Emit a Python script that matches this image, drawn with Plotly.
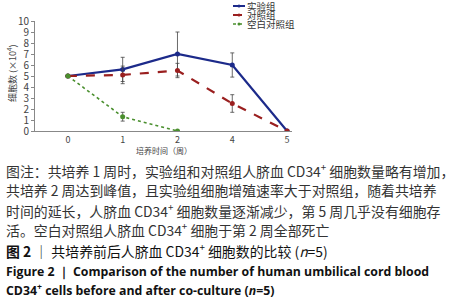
import plotly.graph_objects as go

weeks = ["0", "1", "2", "4", "5"]
exp_vals = [5.0, 5.6, 7.0, 6.0, 0.0]
exp_err = [0, 1.1, 2.0, 1.1, 0]
ctl_vals = [5.0, 5.1, 5.5, 2.5, 0.0]
ctl_err = [0, 0.8, 0.65, 0.8, 0]
blank_vals = [5.0, 1.3, 0.0, None, None]
blank_err = [0, 0.4, 0, 0, 0]

names = ["实验组", "对照组", "空白对照组"]
colors = ["#1c2a8a", "#9a1f1f", "#4a8f2e"]
dashes = ["solid", "dash", "dot"]

W, H = 474, 300
L, R, T, B = 35, 182, 21, 169
PW, PH = W - L - R, H - T - B

def px(x):
    return (x - L) / PW

def py(y):
    return (T + PH - y) / PH

fig = go.Figure()
series = [exp_vals, ctl_vals, blank_vals]
errs = [exp_err, ctl_err, blank_err]
for name, vals, err, c, d in zip(names, series, errs, colors, dashes):
    fig.add_trace(go.Scatter(
        x=weeks, y=vals, name=name, mode="lines+markers",
        line=dict(color=c, width=2.2 if d != "dot" else 1.6, dash=d),
        marker=dict(color=c, size=5),
        error_y=dict(type="data", array=err, visible=True, color="#444", thickness=0.8, width=2),
        showlegend=False, connectgaps=False,
    ))

fig.update_layout(
    width=W, height=H,
    margin=dict(l=L, r=R, t=T, b=B, autoexpand=False),
    paper_bgcolor="white", plot_bgcolor="white",
    font=dict(family="Noto Sans CJK SC, Noto Sans, sans-serif", color="#333"),
    xaxis=dict(type="category", range=[-0.6, 4.09], showline=True, linecolor="#888", linewidth=1,
               ticks="", showgrid=False, zeroline=False, tickfont=dict(size=9, color="#444"),
               automargin=False),
    yaxis=dict(range=[0, 10], dtick=1, showline=True, linecolor="#888", linewidth=1,
               ticks="outside", ticklen=3, tickcolor="#888", showgrid=False, zeroline=False,
               tickfont=dict(size=10, color="#444"), automargin=False),
)

def ann(x, y, text, size, color="#333", xanchor="center", family=None, angle=0):
    f = dict(size=size, color=color)
    if family:
        f["family"] = family
    return dict(x=px(x), y=py(y), xref="paper", yref="paper", text=text, textangle=angle,
                xanchor=xanchor, yanchor="middle", showarrow=False, font=f)

anns = []
anns.append(ann(12, 73, "细胞数 (×10<sup>4</sup>)", 9, "#444", angle=-90))
anns.append(ann(164, 150, "培养时间（周）", 8, "#444"))

# manual legend
leg_y = [6, 15, 24]
for name, c, d, yy in zip(names, colors, dashes, leg_y):
    fig.add_shape(type="line", xref="paper", yref="paper", x0=px(233), x1=px(245), y0=py(yy), y1=py(yy),
                  line=dict(color=c, width=2 if d != "dot" else 1.5, dash=d))
    fig.add_shape(type="circle", xref="paper", yref="paper", x0=px(237.5), x1=px(240.5),
                  y0=py(yy + 1.5), y1=py(yy - 1.5), fillcolor=c, line=dict(color=c, width=0))
    anns.append(ann(245, yy, name, 9.5, "#333", xanchor="left"))

cap_font = "Noto Sans CJK SC, sans-serif"
eng_font = "Open Sans, sans-serif"
captions = [
    (170, "图注：共培养 1 周时，实验组和对照组人脐血 CD34<sup>+</sup> 细胞数量略有增加，", False, "#333"),
    (190, "共培养 2 周达到峰值，且实验组细胞增殖速率大于对照组，随着共培养", False, "#333"),
    (210, "时间的延长，人脐血 CD34<sup>+</sup> 细胞数量逐渐减少，第 5 周几乎没有细胞存", False, "#333"),
    (229, "活。空白对照组人脐血 CD34<sup>+</sup> 细胞于第 2 周全部死亡", False, "#333"),
    (250, "<b>图 2</b> ｜ 共培养前后人脐血 CD34<sup>+</sup> 细胞数的比较 (<i>n</i>=5)", False, "#111"),
    (271, "<b>Figure 2 ｜ Comparison of the number of human umbilical cord blood</b>", True, "#111"),
    (290, "<b>CD34<sup>+</sup> cells before and after co-culture (<i>n</i>=5)</b>", True, "#111"),
]
for yy, txt, eng, col in captions:
    anns.append(ann(4, yy, txt, 12.3 if eng else 13.9, col, xanchor="left",
                    family=eng_font if eng else cap_font))

fig.update_layout(annotations=anns)
fig.write_html("out.html", config={"displayModeBar": False},
               post_script="document.body.style.margin='0';")
